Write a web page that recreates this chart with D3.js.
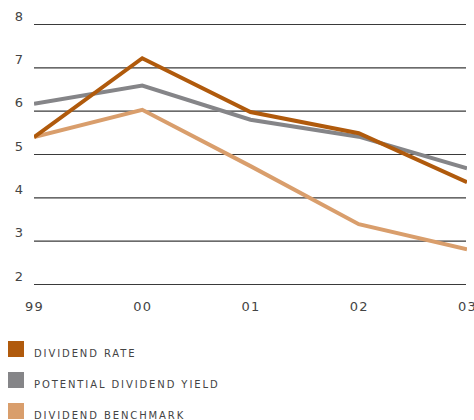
<!DOCTYPE html>
<html>
<head>
<meta charset="utf-8">
<script src="https://cdn.jsdelivr.net/npm/d3@7"></script>
<style>
  html, body { margin: 0; padding: 0; background: #fff; }
  svg { display: block; }
  text { font-family: "DejaVu Sans", sans-serif; fill: #444; }
</style>
</head>
<body>
<svg id="chart" width="474" height="420"></svg>
<script>
const years = ["99", "00", "01", "02", "03"];
const dividendRate = [5.39, 7.21, 5.97, 5.48, 4.35];
const potentialYield = [6.16, 6.58, 5.79, 5.40, 4.67];
const dividendBenchmark = [5.39, 6.02, 4.72, 3.38, 2.80];
const yTicks = [2, 3, 4, 5, 6, 7, 8];
const seriesNames = ["DIVIDEND RATE", "POTENTIAL DIVIDEND YIELD", "DIVIDEND BENCHMARK"];
const seriesColors = ["#b05a0c", "#858588", "#d99e6c"];

const series = [dividendRate, potentialYield, dividendBenchmark];

const svg = d3.select("#chart");
const plotLeft = 34, plotRight = 466, plotTop = 24, plotBottom = 284;

const x = d3.scalePoint().domain(years).range([plotLeft, 467]);
const y = d3.scaleLinear().domain([2, 8]).range([plotBottom, plotTop]);

// horizontal gridlines with value labels
const yAxis = d3.axisLeft(y).tickValues(yTicks).tickSize(-(plotRight - plotLeft)).tickPadding(10)
  .tickFormat(d3.format("d"));
const gy = svg.append("g").attr("transform", `translate(${plotLeft},0)`).call(yAxis);
gy.select(".domain").remove();
gy.selectAll(".tick line").attr("stroke", "#3a3a3a").attr("stroke-width", 1.2);
gy.selectAll(".tick text").attr("font-size", 13).attr("fill", "#444").attr("x", -11)
  .attr("text-anchor", "end").attr("dy", "-0.3em");

// year labels
const xAxis = d3.axisBottom(x).tickSize(0).tickPadding(0);
const gx = svg.append("g").attr("transform", `translate(0,${plotBottom + 22})`).call(xAxis);
gx.select(".domain").remove();
gx.selectAll(".tick text").attr("font-size", 13).attr("fill", "#444")
  .attr("letter-spacing", "1.2px").attr("dy", "0.35em");

// clip lines to the plotting area
svg.append("clipPath").attr("id", "plot").append("rect")
  .attr("x", plotLeft).attr("y", 0).attr("width", plotRight - plotLeft + 1).attr("height", plotBottom + 10);

const line = d3.line().x((d, i) => x(years[i])).y(d => y(d));
svg.append("g").attr("clip-path", "url(#plot)")
  .selectAll("path").data(series.slice().reverse()).join("path")
  .attr("d", d => line(d))
  .attr("fill", "none")
  .attr("stroke", (d, i) => seriesColors[series.length - 1 - i])
  .attr("stroke-width", 4)
  .attr("stroke-linejoin", "miter");

// legend
const legend = svg.append("g");
seriesNames.forEach((name, i) => {
  const ly = 341 + i * 31;
  legend.append("rect").attr("x", 8).attr("y", ly).attr("width", 16).attr("height", 16)
    .attr("fill", seriesColors[i]);
  legend.append("text").attr("x", 34).attr("y", ly + 16)
    .attr("font-size", 10).attr("letter-spacing", "1.9px").attr("fill", "#444").text(name);
});
</script>
</body>
</html>
